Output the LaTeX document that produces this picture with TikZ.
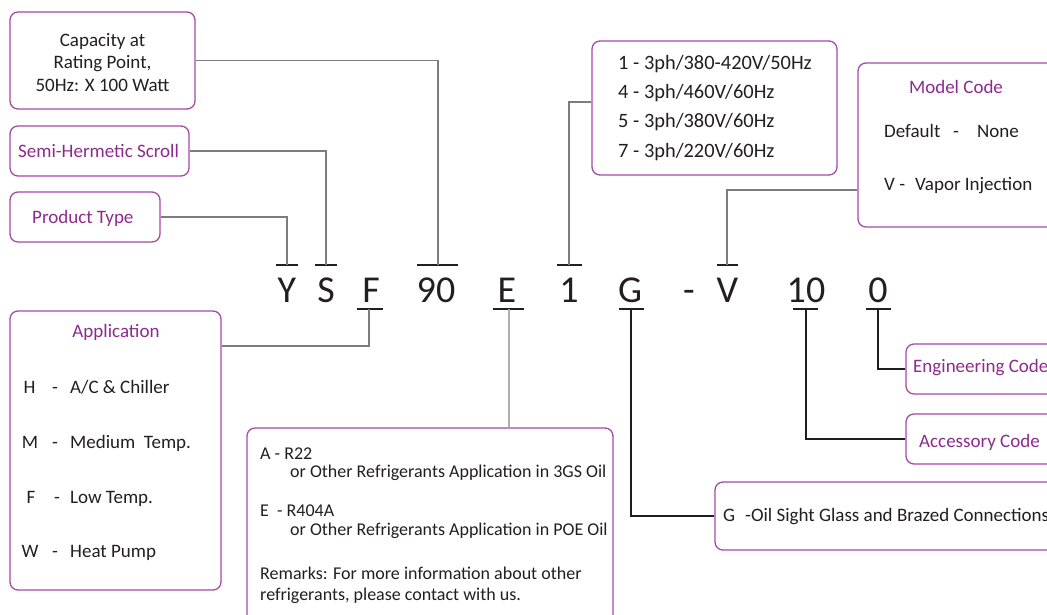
\documentclass[tikz,border=0pt]{standalone}
\usepackage{fontspec}
\setmainfont{Carlito}
\definecolor{boxc}{RGB}{165,75,165}
\definecolor{txtp}{RGB}{142,42,142}
\definecolor{ink}{RGB}{35,31,32}
\definecolor{conng}{RGB}{125,125,125}
\definecolor{connl}{RGB}{175,175,175}
\definecolor{connd}{RGB}{30,30,30}
\begin{document}
\begin{tikzpicture}[x=1pt,y=-1pt,
  box/.style={draw=boxc, line width=1.3pt, rounded corners=8pt, inner sep=0pt},
  tx/.style={inner sep=0pt, text=ink, font=\fontsize{19}{21}\selectfont},
  ptx/.style={tx, text=txtp},
  vtx/.style={tx, font=\fontsize{20.4}{22}\selectfont},
  rtx/.style={tx, font=\fontsize{18}{20}\selectfont},
  code/.style={inner sep=0pt, text=ink, font=\fontsize{38}{40}\selectfont, anchor=base},
  bar/.style={draw=ink, line width=1.2pt},
  cg/.style={draw=conng, line width=1.2pt},
  cl/.style={draw=connl, line width=1.2pt},
  cd/.style={draw=connd, line width=1.2pt}]
\useasboundingbox (0,0) rectangle (1047,614);
\clip (0,0) rectangle (1047,614);
\fill[white] (0,0) rectangle (1047,614);

% ---- code letters
\node[code] (cY) at (287,302) {Y};
\node[code] (cS) at (326,302) {S};
\node[code] (cF) at (371,302) {F};
\node[code] (c90) at (436,302) {90};
\node[code] (cE) at (507,302) {E};
\node[code] (c1) at (569,302) {1};
\node[code] (cG) at (630,302) {G};
\node[code] (cD) at (689,302) {-};
\node[code] (cV) at (727.5,302) {V};
\node[code] (c10) at (806,302) {10};
\node[code] (c0) at (878,302) {0};

% ---- tick points
\coordinate (tY) at (287,265);
\coordinate (tS) at (326,265);
\coordinate (t90) at (438,265);
\coordinate (t1) at (569,265);
\coordinate (tV) at (727,265);
\coordinate (tF) at (369,309);
\coordinate (tE) at (509,309);
\coordinate (tG) at (631,309);
\coordinate (t10) at (806,309);
\coordinate (t0) at (878,309);

% ---- tick bars
\draw[bar] (276,265) -- (298,265);
\draw[bar] (315,265) -- (337,265);
\draw[bar] (417,265) -- (458,265);
\draw[bar] (557,265) -- (582,265);
\draw[bar] (717,265) -- (738,265);
\draw[bar] (357,309) -- (383,309);
\draw[bar] (493,309) -- (524,309);
\draw[bar] (619,309) -- (644,309);
\draw[bar] (793,309) -- (818,309);
\draw[bar] (866,309) -- (891,309);

% ---- boxes
\node[box, minimum width=185pt, minimum height=97pt] (cap) at (102.5,60.5) {};
\node[box, minimum width=179pt, minimum height=50pt] (semi) at (99.5,151) {};
\node[box, minimum width=150pt, minimum height=50pt] (prod) at (85,217) {};
\node[box, minimum width=211pt, minimum height=279pt] (app) at (115.5,450.5) {};
\node[box, minimum width=366pt, minimum height=200pt] (refr) at (430,528) {};
\node[box, minimum width=245pt, minimum height=134pt] (volt) at (714.5,108) {};
\node[box, minimum width=210pt, minimum height=164pt] (model) at (963,145) {};
\node[box, minimum width=160pt, minimum height=50pt] (eng) at (986,369) {};
\node[box, minimum width=160pt, minimum height=50pt] (acc) at (986,439) {};
\node[box, minimum width=350pt, minimum height=68pt] (gbox) at (890,516) {};

% ---- box texts
\node[tx, anchor=base] (cap1) at (102.5,46) {Capacity at};
\node[tx, anchor=base] (cap2) at (102.5,68.5) {Rating Point,};
\node[tx, anchor=base] (cap3) at (102.5,91) {50Hz: X 100 Watt};
\node[ptx, anchor=base west] (semit) at (18,157) {Semi-Hermetic Scroll};
\node[ptx, anchor=base west] (prodt) at (32,223) {Product Type};

\node[ptx, anchor=base] (appt) at (116,337) {Application};
\node[tx, anchor=base] (aH) at (29.5,393) {H};
\node[tx, anchor=base] (aM) at (30,448) {M};
\node[tx, anchor=base] (aF) at (31,503) {F};
\node[tx, anchor=base] (aW) at (30,557) {W};
\node[tx, anchor=base] (dH) at (55,393) {-};
\node[tx, anchor=base] (dM) at (55,448) {-};
\node[tx, anchor=base] (dF) at (57,503) {-};
\node[tx, anchor=base] (dW) at (55,557) {-};
\node[tx, anchor=base west] (eH) at (70,393) {A/C \& Chiller};
\node[tx, anchor=base west] (eM) at (70,448) {Medium\ \ Temp.};
\node[tx, anchor=base west] (eF) at (70,503) {Low Temp.};
\node[tx, anchor=base west] (eW) at (70,557) {Heat Pump};

\node[rtx, anchor=base west] (r1) at (260,459) {A - R22};
\node[rtx, anchor=base west] (r2) at (290,477) {or Other Refrigerants Application in 3GS Oil};
\node[rtx, anchor=base west] (r3) at (260,516) {E\ \ - R404A};
\node[rtx, anchor=base west] (r4) at (290,535) {or Other Refrigerants Application in POE Oil};
\node[rtx, anchor=base west] (r5) at (260,579) {Remarks: For more information about other};
\node[rtx, anchor=base west] (r6) at (260,600) {refrigerants, please contact with us.};

\node[vtx, anchor=base west] (v1) at (618,69) {1 - 3ph/380-420V/50Hz};
\node[vtx, anchor=base west] (v2) at (618,98) {4 - 3ph/460V/60Hz};
\node[vtx, anchor=base west] (v3) at (618,127) {5 - 3ph/380V/60Hz};
\node[vtx, anchor=base west] (v4) at (618,157) {7 - 3ph/220V/60Hz};

\node[ptx, anchor=base] (modt) at (956,93) {Model Code};
\node[tx, anchor=base west] (m1) at (884,137) {Default};
\node[tx, anchor=base west] (m2) at (953,137) {-};
\node[tx, anchor=base west] (m3) at (977,137) {None};
\node[tx, anchor=base west] (m4) at (884,190) {V -};
\node[tx, anchor=base west] (m5) at (915,190) {Vapor Injection};

\node[ptx, anchor=base west] (engt) at (913,372) {Engineering Code};
\node[ptx, anchor=base west] (acct) at (919,447) {Accessory Code};
\node[tx, anchor=base west] (gt1) at (723,521) {G};
\node[tx, anchor=base west] (gt2) at (745,521) {-Oil Sight Glass and Brazed Connections};

% ---- connectors
\draw[cg] (prod.east) -| (tY);
\draw[cg] (semi.east) -| (tS);
\draw[cg] (cap.east) -| (t90);
\draw[cg] ([yshift=6pt]volt.west) -| (t1);
\draw[cg] ([yshift=-45pt]model.west) -| (tV);
\draw[cg] ([yshift=104.5pt]app.east) -| (tF);
\draw[cl] (tE) -- (tE |- refr.north);
\draw[cd] (tG) |- (gbox.west);
\draw[cd] (t10) |- (acc.west);
\draw[cd] (t0) |- (eng.west);
\end{tikzpicture}
\end{document}
